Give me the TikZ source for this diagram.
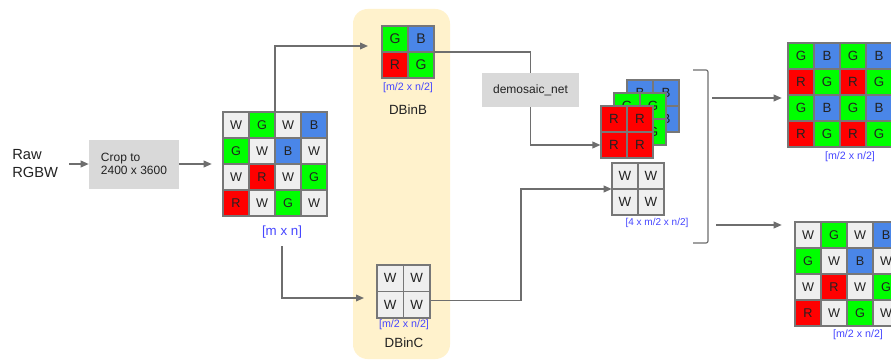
\documentclass[tikz,border=0pt]{standalone}
\usepackage{fontspec}
\setmainfont{Liberation Sans}
\usetikzlibrary{arrows.meta,calc}
\definecolor{colW}{HTML}{EFEFEF}
\definecolor{colG}{HTML}{00FF00}
\definecolor{colB}{HTML}{4A86E8}
\definecolor{colR}{HTML}{FF0000}
\definecolor{lblue}{HTML}{4646FF}
\definecolor{lineg}{HTML}{6E6E6E}
\definecolor{cellb}{HTML}{777777}
\definecolor{boxg}{HTML}{D9D9D9}
\definecolor{ybg}{HTML}{FFF2CC}
\definecolor{txt}{HTML}{222222}
\tikzset{
  cell/.style={draw=cellb, line width=0.8pt, inner sep=0pt, text=txt},
  conn/.style={draw=lineg, line width=1.1pt},
  arr/.style={conn, -{Triangle[length=6pt,width=5pt]}},
  graybox/.style={fill=boxg, inner sep=0pt, text=txt},
  lbl/.style={text=lblue, inner sep=0pt},
  ttl/.style={text=txt, inner sep=0pt, font=\fontsize{10}{12}\selectfont},
}
% #1 name, #2 top-left, #3 cell px, #4 font pt, #5 ncols, #6 nrows, #7 rows
\newcommand{\pxgrid}[7]{%
  \begin{scope}[shift={#2}]
    \node[inner sep=0pt, minimum width=#5*#3*0.75pt, minimum height=#6*#3*0.75pt] (#1) at ({#5*#3/2},{#6*#3/2}) {};
    \foreach \row [count=\i] in {#7} {
      \foreach \l [count=\j] in \row {
        \node[cell, minimum size=#3*0.75pt, fill=col\l, font=\fontsize{#4}{#4}\selectfont] (#1-\i-\j) at ({(\j-0.5)*#3},{(\i-0.5)*#3}) {\l};
      }
    }
  \end{scope}}
\begin{document}
\begin{tikzpicture}[x=0.75pt,y=-0.75pt]
\useasboundingbox (0,0) rectangle (891,360);
\clip (0,0) rectangle (891,360);
\fill[white] (0,0) rectangle (891,360);

% yellow band
\fill[ybg, rounded corners=11pt] (353,9) rectangle (450,359);

% input
\node[anchor=west, align=left, inner sep=0pt, text=txt, font=\fontsize{11}{13.5}\selectfont] (raw) at (12,164) {Raw\\RGBW};
\node[graybox, minimum width=67.5pt, minimum height=36.75pt, align=left, font=\fontsize{9}{10}\selectfont] (crop) at (134,164) {Crop to\\2400 x 3600};

% main grid
\pxgrid{main}{(223,112)}{26}{9.5}{4}{4}{{W,G,W,B},{G,W,B,W},{W,R,W,G},{R,W,G,W}}
\node[lbl, font=\fontsize{10}{12}\selectfont] (mn) at (282,232) {[m x n]};

% DBinB
\pxgrid{dbinb}{(382,26)}{26}{10.5}{2}{2}{{G,B},{R,G}}
\node[lbl, font=\fontsize{8}{10}\selectfont] (lb) at (408,88) {[m/2 x n/2]};
\node[ttl] (tb) at (408,110) {DBinB};

% DBinC
\pxgrid{dbinc}{(377,265)}{26.5}{10}{2}{2}{{W,W},{W,W}}
\node[lbl, font=\fontsize{8}{10}\selectfont] (lc) at (404,325) {[m/2 x n/2]};
\node[ttl] (tc) at (404,343) {DBinC};

% connectors left part
\draw[arr, shorten <=8.25pt] (raw.east) -- (crop.west);
\draw[arr, shorten >=8.25pt] (crop.east) -- (main.west);
\coordinate (inB) at (368,46);
\draw[arr] (main.north) |- (inB);
\coordinate (inC) at (364,298);
\draw[arr, shorten <=6pt] (mn.south) |- (inC);

% demosaic
\node[graybox, minimum width=72.75pt, minimum height=25.5pt, font=\fontsize{9}{11}\selectfont] (demo) at (530.5,90) {demosaic\_net};

% planes
\pxgrid{bp}{(627,80)}{26}{10}{2}{2}{{B,B},{B,B}}
\pxgrid{gp}{(614,93)}{26}{10}{2}{2}{{G,G},{G,G}}
\pxgrid{rp}{(601,106)}{26}{10}{2}{2}{{R,R},{R,R}}
\pxgrid{wp}{(612,163)}{26}{10}{2}{2}{{W,W},{W,W}}
\node[lbl, font=\fontsize{7.5}{9}\selectfont] (l4) at (657,223) {[4 x m/2 x n/2]};

\draw[conn] (dbinb.east) -| (demo.north);
\draw[arr] (demo.south) |- (rp-2-1.west);
\coordinate (turnC) at (521,189);
\draw[arr] ([yshift=3pt]dbinc-2-2.east) -| (turnC) -- (wp.west);

% bracket
\draw[draw=lineg, line width=0.9pt, rounded corners=1.5pt] (693,70) -- (708,70) -- (708,243) -- (693,243);

% outputs
\pxgrid{tr}{(788,43)}{26}{10}{4}{4}{{G,B,G,B},{R,G,R,G},{G,B,G,B},{R,G,R,G}}
\node[lbl, font=\fontsize{8}{10}\selectfont] (ltr) at (850,157) {[m/2 x n/2]};
\pxgrid{br}{(795,222)}{26}{9.5}{4}{4}{{W,G,W,B},{G,W,B,W},{W,R,W,G},{R,W,G,W}}
\node[lbl, font=\fontsize{8}{10}\selectfont] (lbr) at (858,335) {[m/2 x n/2]};

\coordinate (bt) at (712,98);
\coordinate (bb) at (716,225);
\draw[arr, shorten >=4.5pt] (bt) -- (bt -| tr.west);
\draw[arr, shorten >=9.75pt] (bb) -- (bb -| br.west);
\end{tikzpicture}
\end{document}
